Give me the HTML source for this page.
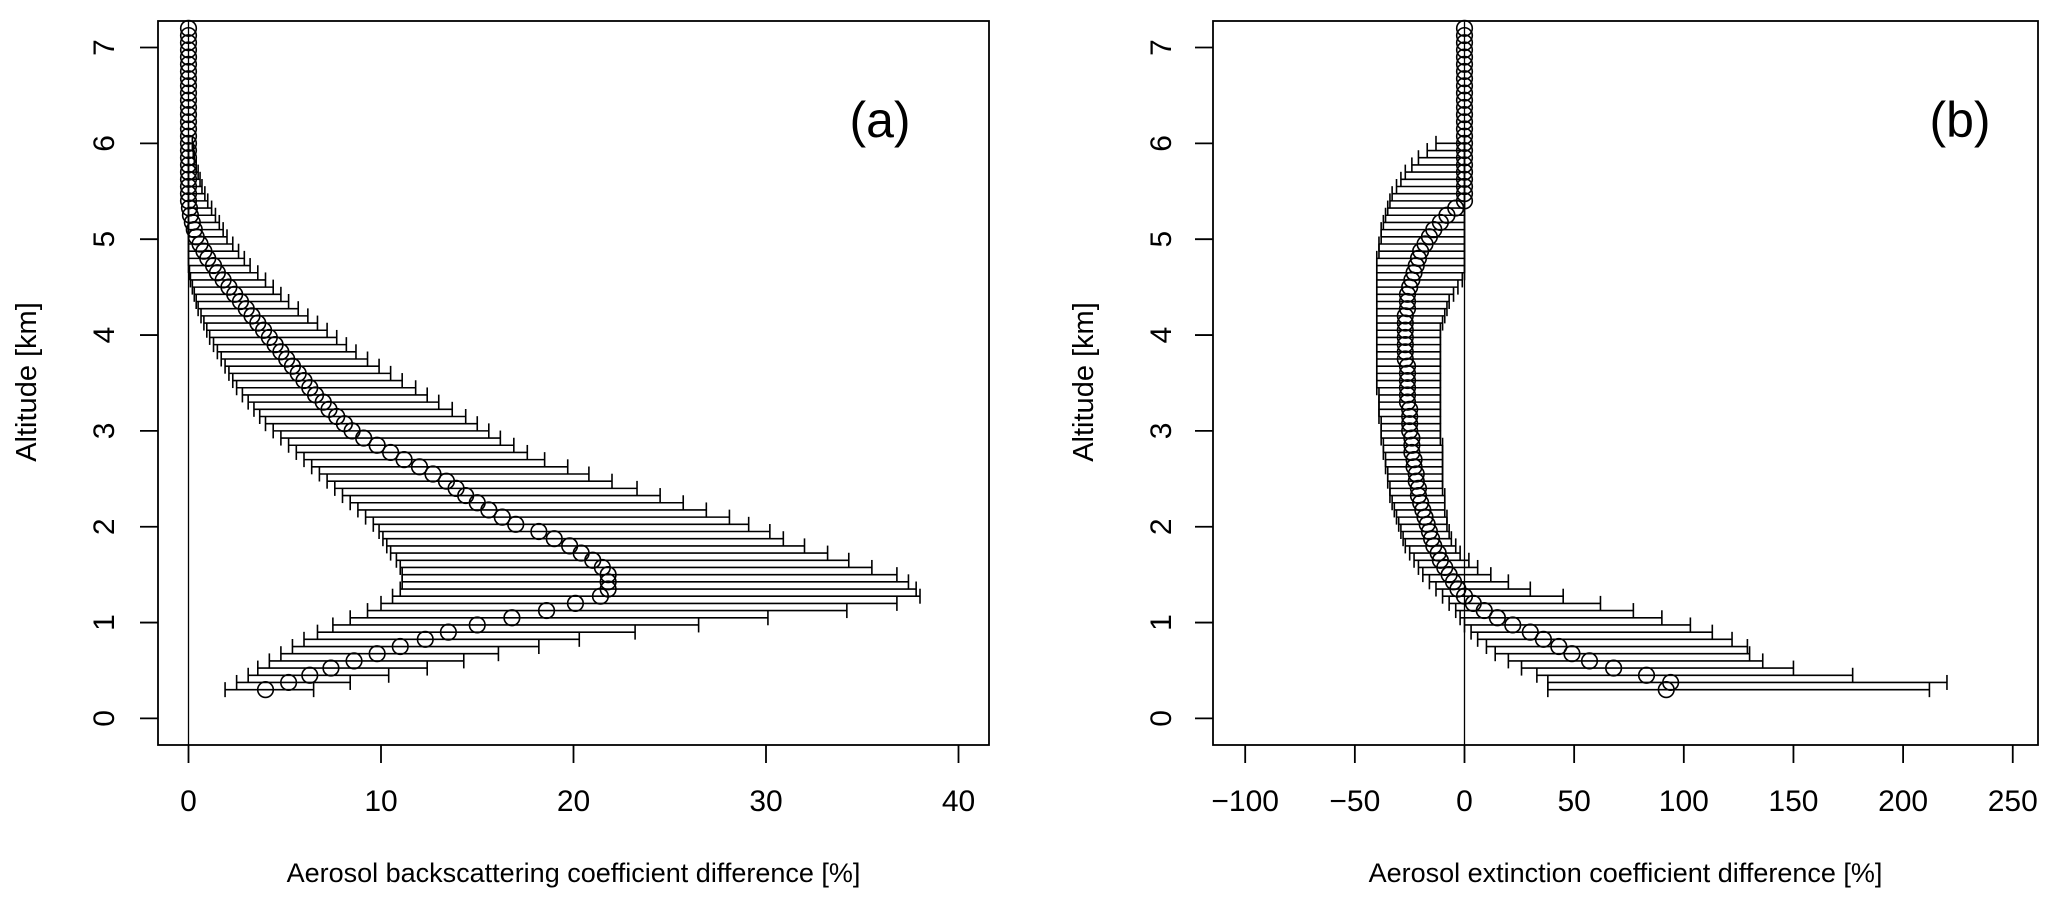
<!DOCTYPE html>
<html><head><meta charset="utf-8"><style>
html,body{margin:0;padding:0;background:#fff;}
svg{display:block;font-family:"Liberation Sans",sans-serif;}
</style></head><body>
<svg id="chart" width="2067" height="908" viewBox="0 0 2067 908" xmlns="http://www.w3.org/2000/svg">
<g id="pa"></g>
<g id="pb"></g>
</svg>
<script>
const altitudes = [0.3,0.375,0.45,0.525,0.6,0.675,0.75,0.825,0.9,0.975,
1.05,1.125,1.2,1.275,1.35,1.425,1.5,1.575,1.65,1.725,
1.8,1.875,1.95,2.025,2.1,2.175,2.25,2.325,2.4,2.475,
2.55,2.625,2.7,2.775,2.85,2.925,3.0,3.075,3.15,3.225,
3.3,3.375,3.45,3.525,3.6,3.675,3.75,3.825,3.9,3.975,
4.05,4.125,4.2,4.275,4.35,4.425,4.5,4.575,4.65,4.725,
4.8,4.875,4.95,5.025,5.1,5.175,5.25,5.325,5.4,5.475,
5.55,5.625,5.7,5.775,5.85,5.925,6.0,6.075,6.15,6.225,
6.3,6.375,6.45,6.525,6.6,6.675,6.75,6.825,6.9,6.975,
7.05,7.125,7.2];
const backMean = [4.0,5.2,6.3,7.4,8.6,9.8,11.0,12.3,13.5,15.0,
16.8,18.6,20.1,21.4,21.8,21.8,21.8,21.5,21.0,20.4,
19.8,19.0,18.2,17.0,16.3,15.6,15.0,14.4,13.9,13.4,
12.7,12.0,11.2,10.5,9.8,9.1,8.5,8.1,7.7,7.3,
7.0,6.6,6.3,6.0,5.7,5.4,5.1,4.8,4.5,4.2,
3.9,3.6,3.3,3.0,2.7,2.4,2.1,1.8,1.5,1.3,
1.0,0.8,0.6,0.4,0.3,0.2,0.1,0.05,0,0,
0,0,0,0,0,0,0,0,0,0, 0,0,0,0,0,0,0,0,0,0, 0,0,0];
const backLow = [1.9,2.5,3.1,3.6,4.2,4.8,5.4,6.0,6.7,7.5,
8.4,9.3,10.0,10.6,11.0,11.1,11.1,11.0,10.8,10.5,
10.3,10.1,9.9,9.6,9.2,8.8,8.4,8.0,7.6,7.2,
6.8,6.4,6.0,5.6,5.2,4.8,4.4,4.0,3.7,3.4,
3.1,2.8,2.5,2.3,2.1,1.9,1.7,1.5,1.3,1.1,
0.95,0.8,0.65,0.5,0.4,0.3,0.2,0.1,0.05,0,
0,0,0,0,0,0,0,0,0,0, 0,0,0,0,0,0,0,0,0,0, 0,0,0,0,0,0,0,0,0,0, 0,0,0];
const backHigh = [6.5,8.4,10.4,12.4,14.3,16.1,18.2,20.3,23.2,26.5,
30.1,34.2,36.8,38.0,37.8,37.4,36.8,35.5,34.3,33.2,
32.0,30.9,30.2,29.1,28.1,26.9,25.7,24.5,23.3,22.0,
20.8,19.7,18.5,17.6,16.9,16.2,15.6,15.0,14.4,13.7,
13.0,12.4,11.8,11.1,10.5,9.9,9.3,8.7,8.2,7.7,
7.2,6.7,6.2,5.7,5.2,4.8,4.4,4.0,3.6,3.2,
2.9,2.6,2.3,2.0,1.8,1.6,1.4,1.2,1.0,0.85,
0.7,0.6,0.5,0.4,0.3,0.25,0.2,0,0,0,
0,0,0,0,0,0,0,0,0,0, 0,0,0];
const extMean = [92,94,83,68,57,49,43,36,30,22,
15,9,4,0,-3,-5,-7,-9,-11,-12,
-14,-15,-16,-17,-18,-19,-20,-21,-21,-22,
-22,-23,-23,-24,-24,-24,-25,-25,-25,-25,
-26,-26,-26,-26,-26,-26,-27,-27,-27,-27,
-27,-27,-27,-26,-26,-26,-25,-24,-23,-22,
-21,-20,-18,-16,-14,-11,-8,-4,0,0,
0,0,0,0,0,0,0,0,0,0, 0,0,0,0,0,0,0,0,0,0, 0,0,0];
const extLow = [38,38,33,26,20,14,10,6,3,0,
-2,-4,-7,-10,-13,-16,-19,-21,-23,-25,
-27,-28,-29,-30,-31,-32,-33,-34,-34,-35,
-35,-36,-36,-37,-37,-38,-38,-38,-39,-39,
-39,-39,-40,-40,-40,-40,-40,-40,-40,-40,
-40,-40,-40,-40,-40,-40,-40,-40,-40,-40,
-40,-39,-39,-38,-38,-37,-36,-35,-34,-33,
-31,-29,-27,-24,-21,-17,-13,0,0,0,
0,0,0,0,0,0,0,0,0,0, 0,0,0];
const extHigh = [212,220,177,150,136,130,129,122,113,103,
90,77,62,45,30,20,12,6,2,-2,
-4,-6,-7,-8,-8,-9,-9,-9,-10,-10,
-10,-10,-10,-10,-10,-11,-11,-11,-11,-11,
-11,-11,-11,-11,-11,-11,-11,-11,-11,-11,
-11,-10,-9,-8,-7,-5,-3,-1,0,0,
0,0,0,0,0,0,0,0,0,0, 0,0,0,0,0,0,0,0,0,0,
0,0,0,0,0,0,0,0,0,0, 0,0,0];
const altTicks = [0,1,2,3,4,5,6,7];
const backTicks = [0,10,20,30,40];
const extTicks = [-100,-50,0,50,100,150,200,250];

const NS = "http://www.w3.org/2000/svg";
function mk(parent, tag, attrs, text){
  const e = document.createElementNS(NS, tag);
  for (const k in attrs) e.setAttribute(k, attrs[k]);
  if (text !== undefined) e.textContent = text;
  parent.appendChild(e);
  return e;
}
const yScale = a => 718.4 - a * 95.84;

function panel(g, box, xs, ticks, low, mean, high, tag, tagX, title, ylabX, tickLabX){
  const sw = 1.8;
  let e;
  e = mk(g, "rect", {x:box[0], y:box[2], width:box[1]-box[0], height:box[3]-box[2], fill:"none", stroke:"#000", "stroke-width":sw});
  
  
  e = mk(g, "line", {x1:xs(0), x2:xs(0), y1:box[2], y2:box[3], stroke:"#000", "stroke-width":1.3});
  
  
  const xa = mk(g, "g", {});
  
  
  ticks.forEach(t => {
    mk(xa, "line", {x1:xs(t), x2:xs(t), y1:box[3], y2:box[3]+18, stroke:"#000", "stroke-width":sw});
    e = mk(xa, "text", {x:xs(t), y:811, "font-size":30, "text-anchor":"middle"}, t < 0 ? "\u2212" + (-t) : String(t));
    
    
  });
  const ya = mk(g, "g", {});
  
  
  altTicks.forEach(t => {
    mk(ya, "line", {x1:box[0]-18, x2:box[0], y1:yScale(t), y2:yScale(t), stroke:"#000", "stroke-width":sw});
    e = mk(ya, "text", {x:tickLabX, y:yScale(t), "font-size":30, "text-anchor":"middle", transform:`rotate(-90 ${tickLabX} ${yScale(t)})`}, String(t));
    
    
  });
  e = mk(g, "text", {x:ylabX, y:382, "font-size":29, "text-anchor":"middle", transform:`rotate(-90 ${ylabX} 382)`}, "Altitude [km]");
  
  
  e = mk(g, "text", {x:(box[0]+box[1])/2, y:882, "font-size":27, "text-anchor":"middle"}, title);
  
  
  e = mk(g, "text", {x:tagX, y:137, "font-size":50, "text-anchor":"middle"}, tag);
  
  
  altitudes.forEach((a, i) => {
    const y = yScale(a);
    if (low[i] !== high[i]) {
      const eb = mk(g, "g", {stroke:"#000", "stroke-width":1.6});
      
      
      mk(eb, "line", {x1:xs(low[i]), x2:xs(high[i]), y1:y, y2:y});
      mk(eb, "line", {x1:xs(low[i]), x2:xs(low[i]), y1:y-7.5, y2:y+7.5});
      mk(eb, "line", {x1:xs(high[i]), x2:xs(high[i]), y1:y-7.5, y2:y+7.5});
    }
  });
  altitudes.forEach((a, i) => {
    const c = mk(g, "circle", {cx:xs(mean[i]), cy:yScale(a), r:7.8, fill:"none", stroke:"#000", "stroke-width":1.6});
    
    
  });
}
const xsA = v => 188.5 + v * 19.25;
const xsB = v => 1464.5 + v * 2.193;
panel(document.getElementById("pa"), [158, 989, 21, 745], xsA, backTicks, backLow, backMean, backHigh, "(a)", 880, "Aerosol backscattering coefficient difference [%]", 36, 114);
panel(document.getElementById("pb"), [1213, 2038, 21, 745], xsB, extTicks, extLow, extMean, extHigh, "(b)", 1960, "Aerosol extinction coefficient difference [%]", 1093, 1171);
</script>
</body></html>
